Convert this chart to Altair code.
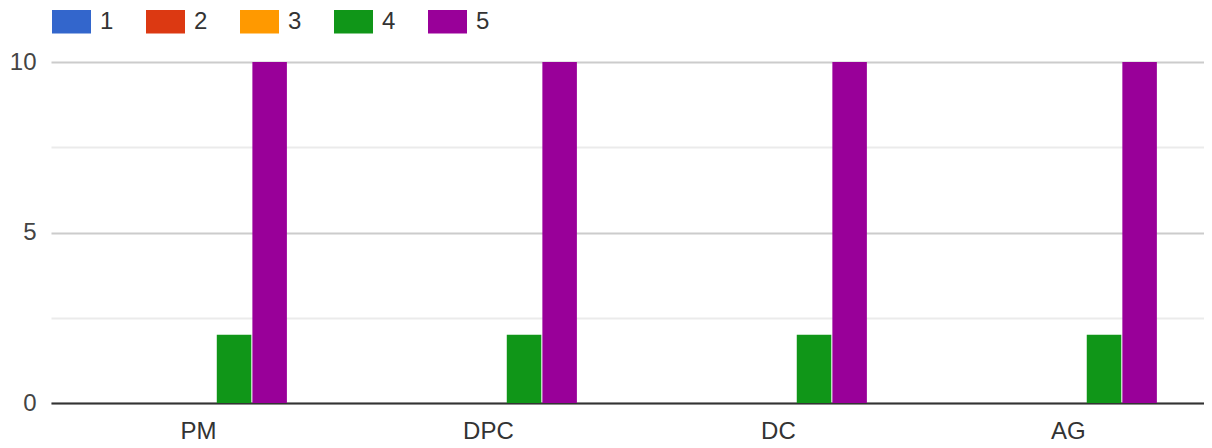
import altair as alt
import pandas as pd

categories = ["PM", "DPC", "DC", "AG"]
series = ["1", "2", "3", "4", "5"]
values_1 = [0, 0, 0, 0]
values_2 = [0, 0, 0, 0]
values_3 = [0, 0, 0, 0]
values_4 = [2, 2, 2, 2]
values_5 = [10, 10, 10, 10]
colors = ["#3366cc", "#dc3912", "#ff9900", "#109618", "#990099"]

rows = []
for s, vals in zip(series, [values_1, values_2, values_3, values_4, values_5]):
    for c, v in zip(categories, vals):
        rows.append({"cat": c, "series": s, "value": v})
df = pd.DataFrame(rows)

FONT = "Liberation Sans, Arial, sans-serif"
FS = 24

chart = (
    alt.Chart(df)
    .mark_bar()
    .encode(
        x=alt.X(
            "cat:N",
            sort=categories,
            title=None,
            scale=alt.Scale(paddingInner=0.39, paddingOuter=0.183, align=0.556),
            axis=alt.Axis(
                labelAngle=0,
                tickSize=0,
                labelPadding=16,
                labelFontSize=FS,
                labelFont=FONT,
                labelColor="#333333",
                domainColor="#333333",
                domainWidth=2,
                grid=False,
            ),
        ),
        xOffset=alt.XOffset("series:N", sort=series, scale=alt.Scale(paddingInner=0.03)),
        y=alt.Y(
            "value:Q",
            title=None,
            scale=alt.Scale(domain=[0, 10], nice=False),
            axis=alt.Axis(
                values=[0, 2.5, 5, 7.5, 10],
                labelExpr="datum.value % 5 == 0 ? datum.label : ''",
                tickSize=0,
                domain=False,
                labelPadding=15,
                labelFontSize=FS,
                labelFont=FONT,
                labelColor="#444444",
                gridColor={
                    "condition": {"test": "datum.value % 5 != 0", "value": "#ebebeb"},
                    "value": "#cccccc",
                },
                gridWidth=2,
            ),
        ),
        color=alt.Color(
            "series:N",
            sort=series,
            scale=alt.Scale(domain=series, range=colors),
            legend=alt.Legend(
                title=None,
                orient="none",
                legendX=1,
                legendY=-60,
                direction="horizontal",
                columns=5,
                symbolType="M-1,-0.6H1V0.6H-1Z",
                symbolSize=1521,
                symbolStrokeWidth=0,
                symbolOpacity=1,
                labelFontSize=FS,
                labelFont=FONT,
                labelColor="#333333",
                labelOffset=9,
                columnPadding=32,
            ),
        ),
    )
    .properties(
        width=1153,
        height=341,
        autosize=alt.AutoSizeParams(type="none"),
        padding={"left": 43, "top": 54, "right": 0, "bottom": 44},
    )
    .configure_view(stroke=None)
)

chart.save("out.html", embed_options={"renderer": "svg", "actions": False})
